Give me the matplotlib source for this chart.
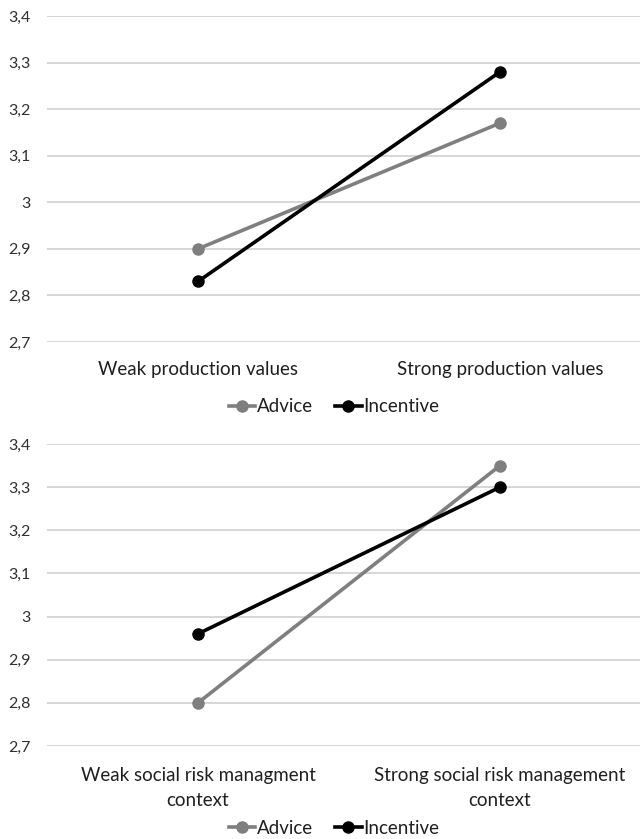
import matplotlib
matplotlib.use("Agg")
import matplotlib.pyplot as plt
from matplotlib.ticker import FuncFormatter, MultipleLocator
from matplotlib.lines import Line2D

# data
top_categories = ["Weak production values", "Strong production values"]
top_advice = [2.90, 3.17]
top_incentive = [2.83, 3.28]

bottom_categories = ["Weak social risk managment\ncontext", "Strong social risk management\ncontext"]
bottom_advice = [2.80, 3.35]
bottom_incentive = [2.96, 3.30]

series_names = ["Advice", "Incentive"]
series_colors = ["#7f7f7f", "#000000"]

plt.rcParams['font.family'] = ['Lato', 'DejaVu Sans']

fig = plt.figure(figsize=(6.4, 8.39), dpi=100)
H = 839.0


def comma_fmt(v, pos):
    return f"{v:g}".replace(".", ",")


def draw_panel(rect, categories, advice, incentive, xpad):
    ax = fig.add_axes(rect)
    xs = range(len(categories))
    for vals, col in zip([advice, incentive], series_colors):
        ax.plot(xs, vals, color=col, lw=2.6, marker="o", markersize=8, zorder=3)
    ax.set_xlim(-0.5, 1.5)
    ax.set_ylim(2.7, 3.4)
    ax.yaxis.set_major_locator(MultipleLocator(0.1))
    ax.yaxis.set_major_formatter(FuncFormatter(comma_fmt))
    ax.grid(axis="y", color="#d0d0d0", lw=1.2)
    ax.set_axisbelow(True)
    for s in ax.spines.values():
        s.set_visible(False)
    ax.set_xticks(list(xs))
    ax.set_xticklabels(categories, fontsize=13.5, color="#202020", linespacing=1.6)
    ax.tick_params(axis="x", length=0, pad=xpad)
    ax.tick_params(axis="y", length=0, pad=12, labelsize=11.5, labelcolor="#303030")
    return ax


def add_legend(ycenter):
    handles = [Line2D([], [], color=c, lw=2.6, marker="o", markersize=8) for c in series_colors]
    fig.legend(handles, series_names, loc="center", bbox_to_anchor=(334 / 640, 1 - ycenter / H),
               ncol=2, frameon=False, fontsize=13.5, handlelength=1.4, handletextpad=0.1,
               columnspacing=1.2, labelcolor="#202020")


left = 47 / 640
width = 604 / 640
draw_panel([left, 1 - 342 / H, width, (342 - 16) / H], top_categories, top_advice, top_incentive, 14)
draw_panel([left, 1 - 746 / H, width, (746 - 444) / H], bottom_categories, bottom_advice, bottom_incentive, 15)
add_legend(407)
add_legend(828)

fig.savefig("out.png", dpi=100)
